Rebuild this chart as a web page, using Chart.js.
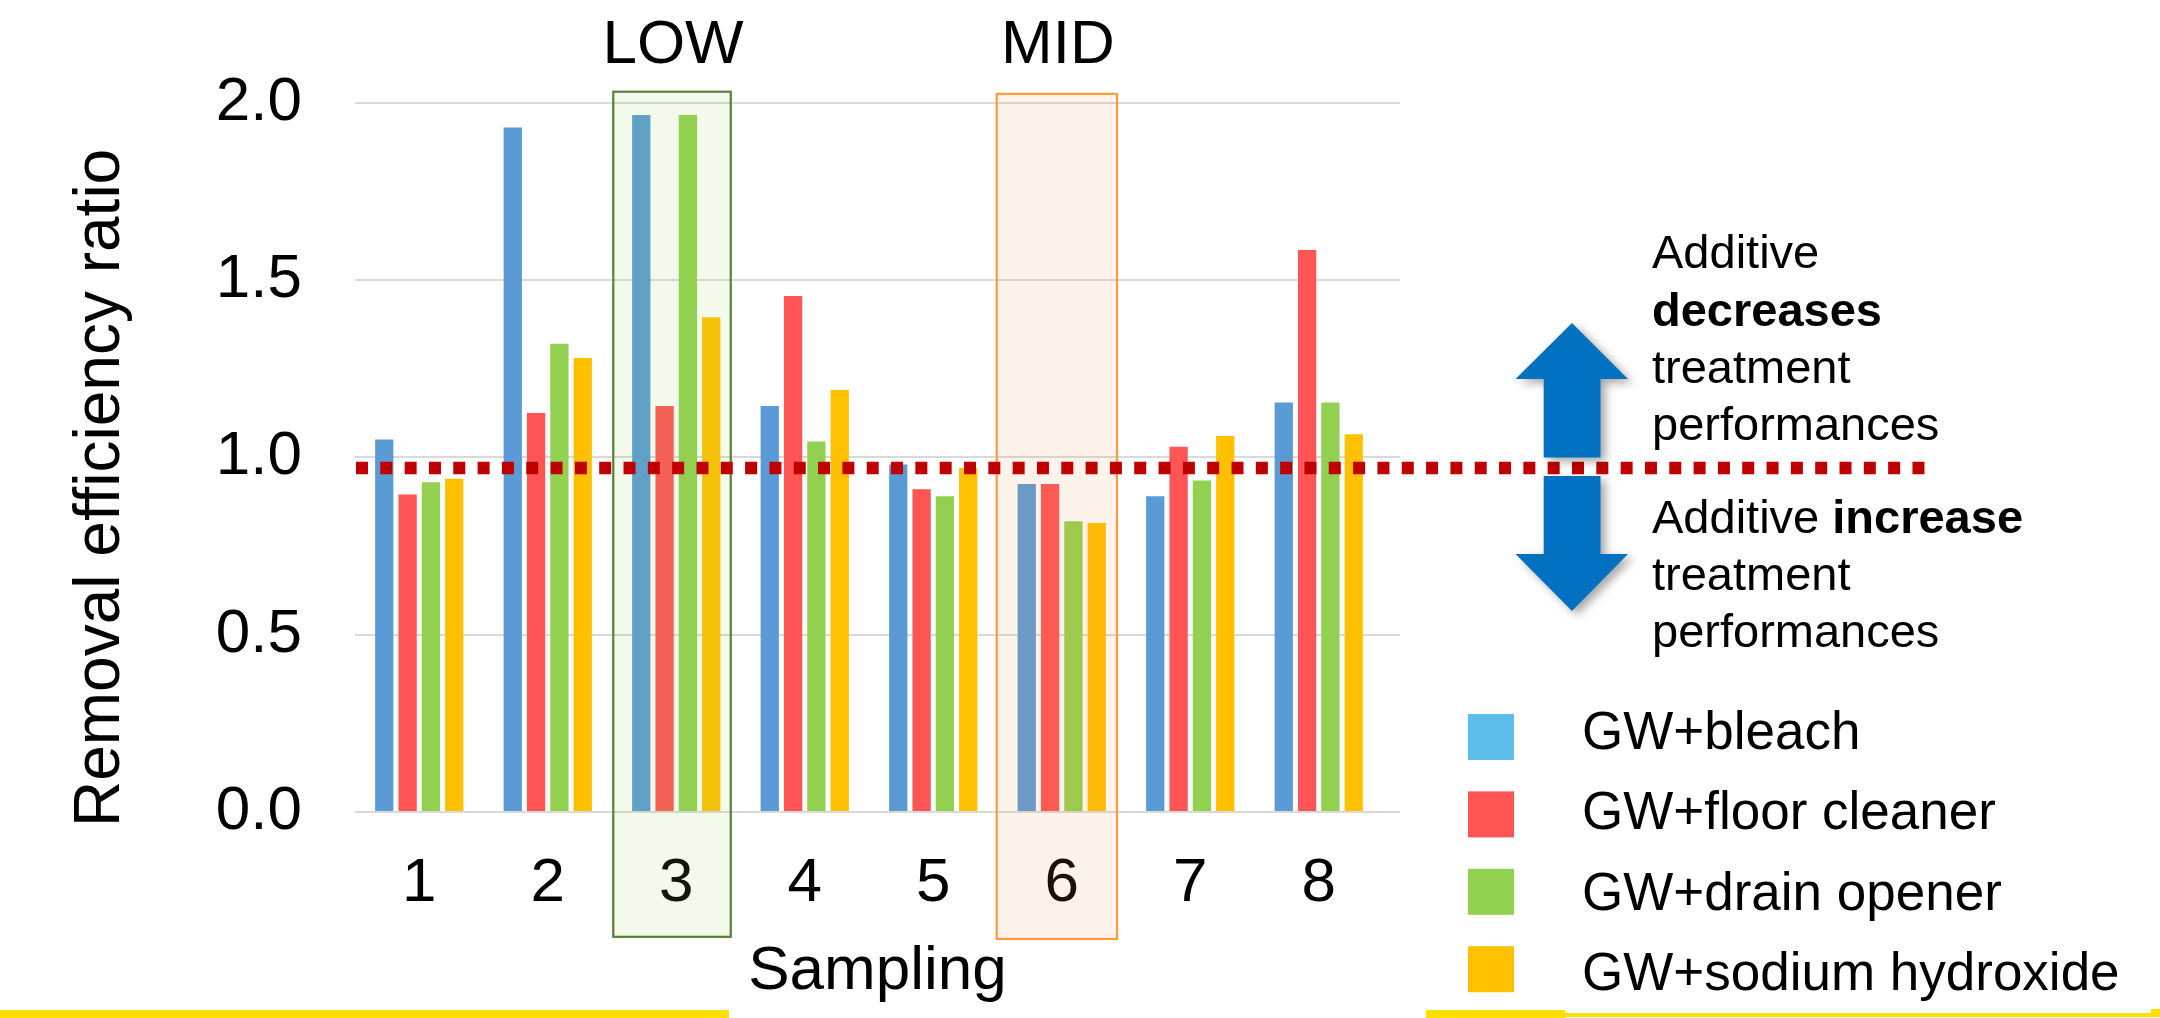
<!DOCTYPE html>
<html>
<head>
<meta charset="utf-8">
<script src="https://cdn.jsdelivr.net/npm/chart.js@4/dist/chart.umd.min.js"></script>
<style>
  html, body { margin: 0; padding: 0; background: #ffffff; }
  #wrap { width: 2160px; height: 1018px; position: relative; }
</style>
</head>
<body>
<div id="wrap"><canvas id="c" width="2160" height="1018"></canvas></div>
<script>
// ---- data ----
const categories = ['1', '2', '3', '4', '5', '6', '7', '8'];
const seriesNames = ['GW+bleach', 'GW+floor cleaner', 'GW+drain opener', 'GW+sodium hydroxide'];
const bleach          = [1.05, 1.93, 1.965, 1.145, 0.98, 0.925, 0.89, 1.155];
const floorCleaner    = [0.895, 1.125, 1.145, 1.455, 0.91, 0.925, 1.03, 1.585];
const drainOpener     = [0.93, 1.32, 1.965, 1.045, 0.89, 0.82, 0.935, 1.155];
const sodiumHydroxide = [0.94, 1.28, 1.395, 1.19, 0.97, 0.815, 1.06, 1.065];
const yTickValues = [0, 0.5, 1.0, 1.5, 2.0];
const thresholdValue = 0.97;
const highlightCategories = ['3', '6'];
const highlightLabels = ['LOW', 'MID'];
const yTitle = 'Removal efficiency ratio';
const xTitle = 'Sampling';

// ---- styles ----
const FONT = "'Liberation Sans', Arial, Helvetica, sans-serif";
const barColors = ['#5B9BD5', '#FF5555', '#92D050', '#FFC000'];
const legendColors = ['#5EBEEA', '#FF5555', '#92D050', '#FFC000'];
const seriesValues = [bleach, floorCleaner, drainOpener, sodiumHydroxide];

const datasets = seriesValues.map((vals, k) => ({
  label: seriesNames[k],
  data: vals.map((v, i) => ({ x: i + 1, y: v })),
  backgroundColor: barColors[k],
  borderWidth: 0,
  categoryPercentage: 0.726,
  barPercentage: 0.784
}));

const highlightStyle = [
  { from: -0.49, to: 0.424, yTop: 2.031, yBot: -0.352, stroke: '#548235', fill: 'rgba(146,208,80,0.11)' },
  { from: -0.506, to: 0.43, yTop: 2.025, yBot: -0.358, stroke: '#FF9A3C', fill: 'rgba(247,150,70,0.115)' }
];

const overlayPlugin = {
  id: 'overlay',
  afterDatasetsDraw(chart) {
    const ctx = chart.ctx;
    const xs = chart.scales.x, ys = chart.scales.y;
    // highlight boxes
    highlightCategories.forEach((cat, k) => {
      const st = highlightStyle[k];
      const c = categories.indexOf(cat) + 1;
      const x0 = xs.getPixelForValue(c + st.from);
      const x1 = xs.getPixelForValue(c + st.to);
      const y0 = ys.getPixelForValue(st.yTop);
      const y1 = ys.getPixelForValue(st.yBot);
      ctx.save();
      ctx.fillStyle = st.fill;
      ctx.fillRect(x0, y0, x1 - x0, y1 - y0);
      ctx.strokeStyle = st.stroke;
      ctx.lineWidth = 2.2;
      ctx.strokeRect(x0, y0, x1 - x0, y1 - y0);
      ctx.fillStyle = '#000';
      ctx.font = '62px ' + FONT;
      ctx.textAlign = 'center';
      ctx.textBaseline = 'alphabetic';
      ctx.fillText(highlightLabels[k], (x0 + x1) / 2 + 1, 63);
      ctx.restore();
    });
    // threshold line
    const yl = ys.getPixelForValue(thresholdValue);
    ctx.save();
    ctx.strokeStyle = '#C00000';
    ctx.lineWidth = 12.5;
    ctx.lineCap = 'butt';
    ctx.setLineDash([12, 12.32]);
    ctx.beginPath();
    ctx.moveTo(chart.chartArea.left + 1, yl);
    ctx.lineTo(1924.5, yl);
    ctx.stroke();
    ctx.restore();
  },
  afterDraw(chart) {
    const ctx = chart.ctx;
    // y axis title
    ctx.save();
    ctx.translate(118.5, 827);
    ctx.rotate(-Math.PI / 2);
    ctx.font = '64px ' + FONT;
    ctx.fillStyle = '#000';
    ctx.textAlign = 'left';
    ctx.textBaseline = 'alphabetic';
    ctx.fillText(yTitle, 0, 0);
    ctx.restore();

    // arrows
    ctx.save();
    ctx.fillStyle = '#0070C0';
    ctx.shadowColor = 'rgba(0,0,0,0.35)';
    ctx.shadowBlur = 10;
    ctx.shadowOffsetX = 5;
    ctx.shadowOffsetY = 4;
    ctx.beginPath();
    ctx.moveTo(1572, 323);
    ctx.lineTo(1628, 379);
    ctx.lineTo(1600.5, 379);
    ctx.lineTo(1600.5, 457.5);
    ctx.lineTo(1543.7, 457.5);
    ctx.lineTo(1543.7, 379);
    ctx.lineTo(1515.5, 379);
    ctx.closePath();
    ctx.fill();
    ctx.beginPath();
    ctx.moveTo(1543.7, 476);
    ctx.lineTo(1600.5, 476);
    ctx.lineTo(1600.5, 554);
    ctx.lineTo(1628, 554);
    ctx.lineTo(1572, 611);
    ctx.lineTo(1515.5, 554);
    ctx.lineTo(1543.7, 554);
    ctx.closePath();
    ctx.fill();
    ctx.restore();

    // annotation texts
    ctx.save();
    ctx.fillStyle = '#000';
    ctx.textAlign = 'left';
    ctx.textBaseline = 'alphabetic';
    const reg = '47px ' + FONT, bold = 'bold 47px ' + FONT;
    const tx = 1652;
    ctx.font = reg; ctx.fillText('Additive', tx, 268);
    ctx.font = bold; ctx.fillText('decreases', tx, 326);
    ctx.font = reg; ctx.fillText('treatment', tx, 383);
    ctx.fillText('performances', tx, 440);
    ctx.fillText('Additive ', tx, 533);
    const w = ctx.measureText('Additive ').width;
    ctx.font = bold; ctx.fillText('increase', tx + w, 533);
    ctx.font = reg; ctx.fillText('treatment', tx, 590);
    ctx.fillText('performances', tx, 647);
    ctx.restore();

    // legend
    ctx.save();
    ctx.font = '53px ' + FONT;
    ctx.textAlign = 'left';
    ctx.textBaseline = 'alphabetic';
    chart.data.datasets.forEach((ds, k) => {
      ctx.fillStyle = legendColors[k];
      ctx.fillRect(1468, 714 + k * 77.4, 46, 46);
      ctx.fillStyle = '#000';
      ctx.fillText(ds.label, 1582, 749 + k * 80.3);
    });
    ctx.restore();

    // bottom yellow rules
    ctx.save();
    ctx.fillStyle = '#FFDF00';
    ctx.fillRect(0, 1010, 729, 8);
    ctx.fillRect(1426, 1010, 139, 8);
    ctx.fillRect(1565, 1013, 586, 4);
    ctx.fillRect(2151, 1009, 9, 8);
    ctx.restore();
  }
};

new Chart(document.getElementById('c'), {
  type: 'bar',
  data: { datasets },
  options: {
    responsive: false,
    devicePixelRatio: 1,
    animation: false,
    layout: { padding: { left: 0, right: 760, top: 102.7, bottom: 0 } },
    plugins: { legend: { display: false }, tooltip: { enabled: false } },
    scales: {
      x: {
        type: 'linear',
        offset: false,
        min: 0.5,
        max: 0.5 + 1045 / 128.5,
        afterBuildTicks: (scale) => { scale.ticks = categories.map((c, i) => ({ value: i + 1 })); },
        afterFit: (scale) => { scale.height = 206; },
        grid: { display: false, drawTicks: false, offset: false },
        border: { display: false },
        ticks: {
          padding: 35,
          color: '#000',
          font: { family: FONT, size: 62 },
          maxRotation: 0,
          autoSkip: false,
          callback: (v) => categories[Math.round(v) - 1]
        },
        title: {
          display: true,
          text: xTitle,
          color: '#000',
          font: { family: FONT, size: 62 },
          padding: { top: 0, bottom: 9 }
        }
      },
      y: {
        min: 0,
        max: 2,
        afterBuildTicks: (scale) => { scale.ticks = yTickValues.map(v => ({ value: v })); },
        afterFit: (scale) => { scale.width = 355; },
        grid: { color: '#D9D9D9', lineWidth: 2, drawTicks: false },
        border: { display: false },
        ticks: {
          padding: 53,
          color: '#000',
          font: { family: FONT, size: 62 },
          callback: (v) => Number(v).toFixed(1)
        }
      }
    }
  },
  plugins: [overlayPlugin]
});
</script>
</body>
</html>
